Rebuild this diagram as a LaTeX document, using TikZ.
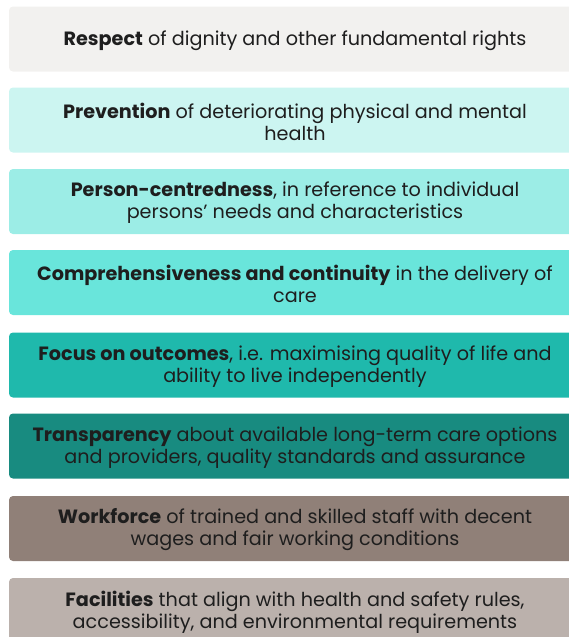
\documentclass[tikz,border=0pt]{standalone}
\usepackage{fontspec}
\setmainfont{Poppins}
\definecolor{cA}{HTML}{F2F1EF}
\definecolor{cB}{HTML}{CCF5F1}
\definecolor{cC}{HTML}{9CEDE6}
\definecolor{cD}{HTML}{69E5DB}
\definecolor{cE}{HTML}{1FB9AC}
\definecolor{cF}{HTML}{188B80}
\definecolor{cG}{HTML}{908078}
\definecolor{cH}{HTML}{BBB1AC}
\definecolor{txt}{HTML}{1E1E1E}
\begin{document}
\begin{tikzpicture}[x=1pt,y=-1pt,
  band/.style={rounded corners=4pt, minimum width=572pt, minimum height=65pt,
    inner sep=0pt, align=center, text=txt, font=\fontsize{19.2}{22}\selectfont},
  lbl/.style={inner sep=0pt, align=center, text=txt, font=\fontsize{19.2}{22}\selectfont},
]
\useasboundingbox (0,0) rectangle (569,637);
\clip (0,0) rectangle (569,637);
\node[band, fill=cA] (b1) at (295,39) {};
\node[band, fill=cB] (b2) at (295,120) {};
\node[band, fill=cC] (b3) at (295,201.5) {};
\node[band, fill=cD] (b4) at (295,282.5) {};
\node[band, fill=cE] (b5) at (295,365) {};
\node[band, fill=cF] (b6) at (295,446) {};
\node[band, fill=cG] (b7) at (295,528.5) {};
\node[band, fill=cH] (b8) at (295,610.5) {};
\node[lbl] (t1) at ([yshift=-1.5pt]b1.center) {\textbf{Respect} of dignity and other fundamental rights};
\node[lbl] (t2) at ([yshift=-1.5pt]b2.center) {\textbf{Prevention} of deteriorating physical and mental\\health};
\node[lbl] (t3) at ([yshift=-1.5pt]b3.center) {\textbf{Person-centredness}, in reference to individual\\persons’ needs and characteristics};
\node[lbl] (t4) at ([yshift=-1.5pt]b4.center) {\textbf{Comprehensiveness and continuity} in the delivery of\\care};
\node[lbl] (t5) at ([yshift=-1.5pt]b5.center) {\textbf{Focus on outcomes}, i.e. maximising quality of life and\\ability to live independently};
\node[lbl] (t6) at ([yshift=-1.5pt]b6.center) {\textbf{Transparency} about available long-term care options\\and providers, quality standards and assurance};
\node[lbl] (t7) at ([yshift=-1.5pt]b7.center) {\textbf{Workforce} of trained and skilled staff with decent\\wages and fair working conditions};
\node[lbl] (t8) at ([yshift=-1.5pt]b8.center) {\textbf{Facilities} that align with health and safety rules,\\accessibility, and environmental requirements};
\end{tikzpicture}
\end{document}
